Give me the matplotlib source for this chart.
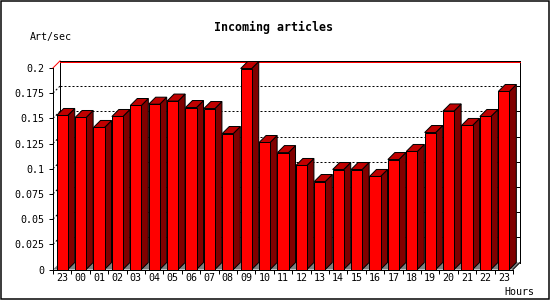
import numpy as np
import matplotlib
matplotlib.use("Agg")
import matplotlib.pyplot as plt
from matplotlib.patches import Polygon, Rectangle

hours = ['23', '00', '01', '02', '03', '04', '05', '06', '07', '08', '09', '10',
         '11', '12', '13', '14', '15', '16', '17', '18', '19', '20', '21', '22', '23']
values = [0.1528, 0.1508, 0.1409, 0.1518, 0.1627, 0.1640, 0.1671, 0.1607, 0.1597,
          0.1349, 0.1994, 0.1260, 0.1160, 0.1032, 0.0873, 0.0992, 0.0992, 0.0923,
          0.1091, 0.1171, 0.1359, 0.1573, 0.1429, 0.1518, 0.1766]
yticks = [0, 0.025, 0.05, 0.075, 0.1, 0.125, 0.15, 0.175, 0.2]
ytick_labels = ['0', '0.025', '0.05', '0.075', '0.1', '0.125', '0.15', '0.175', '0.2']

W, H = 550, 300
mono = 'DejaVu Sans Mono'
px = 0.72  # one pixel in points

fig = plt.figure(figsize=(W / 100, H / 100), dpi=100)
# front plot area in pixels
left, bottom, aw, ah = 53, 269.5, 460, 201.6
ax = fig.add_axes([left / W, 1 - bottom / H, aw / W, ah / H])
n = len(values)
ymax = 0.2
ax.set_xlim(0, n)
ax.set_ylim(0, ymax)

# 3d depth in data units (7 px)
dx = 7 / aw * n
dy = 7 / ah * ymax
onepx = ymax / ah

# floor
ax.add_patch(Polygon([(0, 0), (dx, dy), (n + dx, dy), (n, 0)], closed=True,
                     facecolor='#808080', edgecolor='none', zorder=1, clip_on=False))

# back wall gridlines
for t in yticks[1:-1]:
    ax.plot([dx, n + dx], [t + dy, t + dy], color='black', lw=px,
            ls=(0, (2, 2)), zorder=1.5, clip_on=False)
    ax.plot([0, dx], [t, t + dy], color='black', lw=px,
            ls=(0, (2, 2)), zorder=1.5, clip_on=False)
    # right ticks
    ax.plot([n + dx - 3 / aw * n, n + dx], [t + dy, t + dy], color='black',
            lw=px, zorder=1.5, clip_on=False)

# back wall edges
ax.plot([dx, dx], [dy, ymax + dy], color='black', lw=px, zorder=1.6, clip_on=False)
ax.plot([n + dx, n + dx], [dy, ymax + dy], color='black', lw=px, zorder=1.6, clip_on=False)
ax.plot([dx, n + dx], [ymax + dy, ymax + dy], color='black', lw=px, zorder=1.6, clip_on=False)
ax.plot([dx, n + dx], [ymax + dy - onepx, ymax + dy - onepx], color='red', lw=px,
        zorder=1.6, clip_on=False)
ax.plot([0, dx], [ymax, ymax + dy], color='red', lw=px, zorder=1.6, clip_on=False)
ax.plot([n, n + dx], [0, dy], color='black', lw=px, zorder=1.6, clip_on=False)

# bars
centers = np.arange(n) + 0.5
bw = 0.6
ax.bar(centers, values, width=bw, color='#FF0000', edgecolor='black',
       linewidth=px, zorder=3, clip_on=False)
for c, v in zip(centers, values):
    r = c + bw / 2
    l = c - bw / 2
    side = Polygon([(r, 0), (r + dx, dy), (r + dx, v + dy), (r, v)], closed=True,
                   facecolor='#800000', edgecolor='black', lw=px, zorder=2.5,
                   clip_on=False)
    top = Polygon([(l, v), (l + dx, v + dy), (r + dx, v + dy), (r, v)], closed=True,
                  facecolor='#C00000', edgecolor='black', lw=px, zorder=2.5,
                  clip_on=False)
    ax.add_patch(side)
    ax.add_patch(top)

# axes / ticks
for s in ['top', 'right']:
    ax.spines[s].set_visible(False)
for s in ['left', 'bottom']:
    ax.spines[s].set_linewidth(px)
    ax.spines[s].set_zorder(4)
ax.set_xticks(np.arange(n + 1))
ax.set_xticklabels([])
ax.set_xticks(centers, minor=True)
ax.set_xticklabels(hours, minor=True, fontsize=7.2, family=mono)
ax.tick_params(axis='x', which='major', length=3, width=px, direction='out')
ax.tick_params(axis='x', which='minor', length=0, pad=2.5)
ax.set_yticks(yticks)
ax.set_yticklabels(ytick_labels, fontsize=7.2, family=mono)
ax.tick_params(axis='y', length=3, width=px, direction='out', pad=3)
ax.patch.set_visible(False)

# texts
fig.text(273 / W, 1 - 27 / H, 'Incoming articles', ha='center', va='center',
         fontsize=8.4, fontweight='bold', family=mono)
fig.text(30 / W, 1 - 37 / H, 'Art/sec', ha='left', va='center', fontsize=7.2, family=mono)
fig.text(534 / W, 1 - 292 / H, 'Hours', ha='right', va='center', fontsize=7.2, family=mono)

# image frame
fig.add_artist(Rectangle((0.5 / W, 1.5 / H), 548 / W, 298 / H, transform=fig.transFigure,
                         fill=False, edgecolor='black', lw=px * 1.5))

fig.savefig('out.png', dpi=100)
